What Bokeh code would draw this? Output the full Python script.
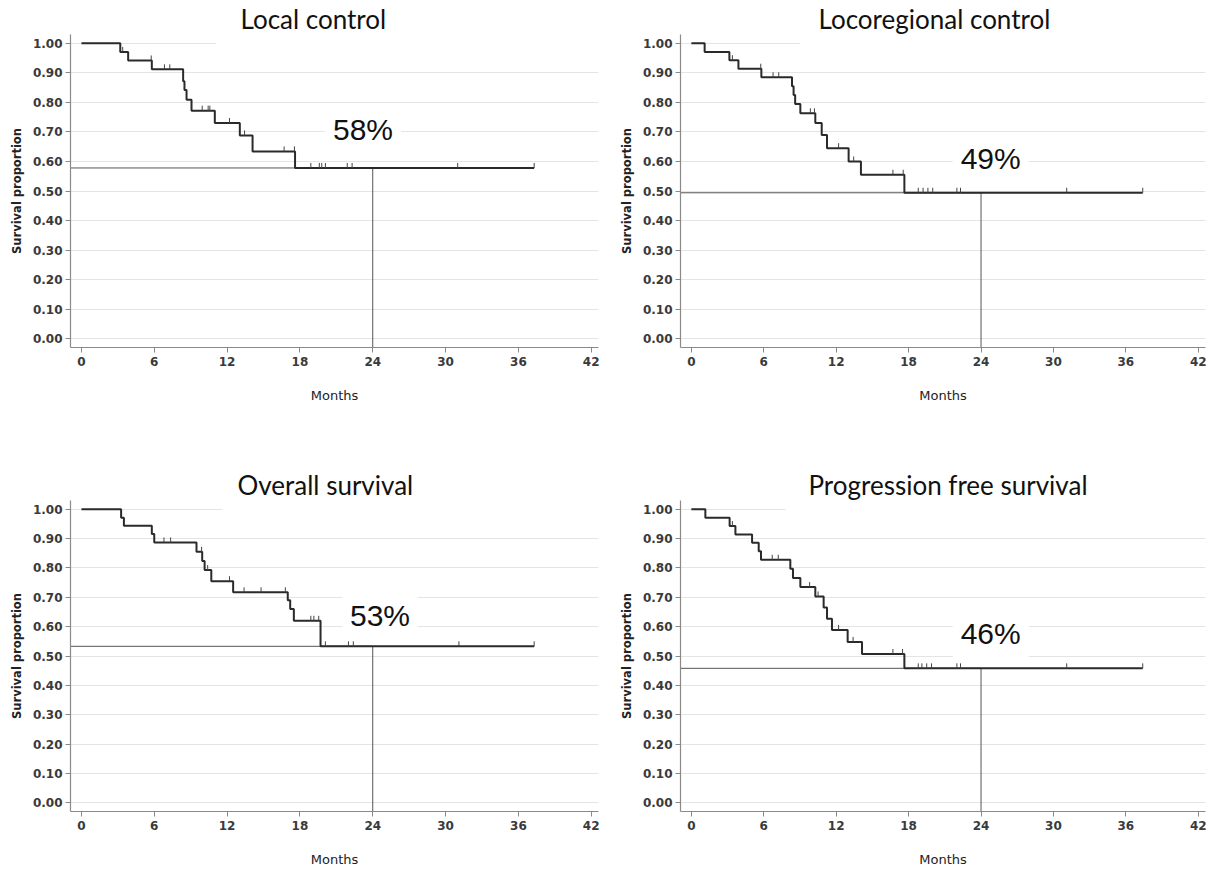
import numpy as np
from bokeh.plotting import figure
from bokeh.layouts import column, row
from bokeh.models import Range1d, FixedTicker, NumeralTickFormatter, Label, Title, BoxAnnotation
from bokeh.embed import file_html
from bokeh.resources import INLINE

# ---------------- data ----------------
titles = ["Local control", "Locoregional control", "Overall survival", "Progression free survival"]
pct_labels = ["58%", "49%", "53%", "46%"]
landmark_month = 24

lc_event_times = [3.2, 3.85, 5.8, 8.38, 8.49, 8.66, 9.07, 10.99, 13.05, 14.1, 17.6]
lc_survival = [0.971, 0.942, 0.912, 0.872, 0.842, 0.809, 0.772, 0.730, 0.688, 0.634, 0.578]
lc_censor_times = [3.4, 5.75, 6.84, 7.28, 9.95, 10.44, 10.58, 12.2, 13.44, 16.7, 17.55,
                   18.9, 19.6, 19.8, 20.1, 21.9, 22.3, 31.0, 37.3]

lrc_event_times = [1.1, 3.15, 3.9, 5.8, 8.34, 8.47, 8.6, 9.03, 10.27, 10.8, 11.24, 13.03, 14.05, 17.65]
lrc_survival = [0.971, 0.943, 0.914, 0.885, 0.855, 0.825, 0.795, 0.763, 0.730, 0.690, 0.645,
                0.600, 0.555, 0.494]
lrc_censor_times = [3.4, 5.75, 6.77, 7.24, 9.86, 10.2, 12.2, 13.45, 16.7, 17.55, 18.8, 19.2,
                    19.6, 20.0, 22.0, 22.3, 31.1, 37.4]

os_event_times = [3.27, 3.5, 5.8, 6.0, 9.48, 9.95, 10.15, 10.7, 12.5, 17.0, 17.2, 17.5, 19.7]
os_survival = [0.971, 0.944, 0.916, 0.887, 0.855, 0.824, 0.793, 0.755, 0.717, 0.690, 0.660,
               0.620, 0.533]
os_censor_times = [6.8, 7.35, 9.9, 10.4, 12.2, 13.4, 14.8, 16.8, 18.9, 19.15, 19.55, 20.1,
                   22.0, 22.4, 31.1, 37.3]

pfs_event_times = [1.16, 3.17, 3.65, 5.03, 5.58, 5.77, 8.2, 8.42, 9.03, 10.27, 10.96, 11.24,
                   11.65, 12.95, 14.14, 17.65]
pfs_survival = [0.971, 0.943, 0.914, 0.886, 0.857, 0.828, 0.797, 0.766, 0.735, 0.703, 0.665,
                0.627, 0.589, 0.548, 0.507, 0.458]
pfs_censor_times = [3.4, 6.7, 7.2, 9.8, 10.5, 12.2, 13.4, 16.7, 17.5, 18.8, 19.1, 19.5, 19.9,
                    22.0, 22.3, 31.1, 37.4]

x_ticks = [0, 6, 12, 18, 24, 30, 36, 42]
y_ticks = [0.0, 0.1, 0.2, 0.3, 0.4, 0.5, 0.6, 0.7, 0.8, 0.9, 1.0]

# ---------------- layout / style ----------------
X_LO, X_HI = -0.9, 42.6
Y_LO, Y_HI = -0.03, 1.03
CURVE = "#2a2a2a"
REF = "#555555"
AXIS = "#8a8a8a"
TXT = "#3a3a3a"

title_offsets = [170, 138, 167, 128]            # px from frame left edge
title_mask_left = [11.1, 9.0, 11.6, 7.8]        # where the title box hides the top gridline
pct_pos = [(23.2, 0.708), (24.8, 0.610), (24.6, 0.638), (24.8, 0.576)]


def surv_at(t, ev, sv):
    ev = np.asarray(ev)
    i = np.searchsorted(ev, np.asarray(t), side="right")
    levels = np.concatenate([[1.0], np.asarray(sv)])
    return levels[i]


def panel(idx, ev, sv, cens, width, height, bl, br, bt, bb, label_standoff):
    p = figure(width=width, height=height, title=None,
               x_range=Range1d(X_LO, X_HI), y_range=Range1d(Y_LO, Y_HI),
               output_backend="svg", toolbar_location=None,
               min_border_left=bl, min_border_right=br,
               min_border_top=bt, min_border_bottom=bb)
    p.outline_line_color = None
    p.background_fill_color = "white"
    p.border_fill_color = "white"
    p.xgrid.visible = False
    p.ygrid.grid_line_color = "#e4e4e4"
    p.ygrid.grid_line_width = 1.2

    p.xaxis.ticker = FixedTicker(ticks=x_ticks)
    p.yaxis.ticker = FixedTicker(ticks=y_ticks)
    p.yaxis.formatter = NumeralTickFormatter(format="0.00")
    for ax in (p.xaxis, p.yaxis):
        ax.axis_line_color = AXIS
        ax.axis_line_width = 1.2
        ax.major_tick_line_color = AXIS
        ax.major_tick_out = 5
        ax.major_tick_in = 0
        ax.minor_tick_line_color = None
        ax.major_label_text_font = "DejaVu Sans"
        ax.major_label_text_font_style = "bold"
        ax.major_label_text_font_size = "12px"
        ax.major_label_text_color = TXT
        ax.major_label_standoff = 4
        ax.axis_label_text_color = "#222222"
        ax.axis_label_text_font = "DejaVu Sans"
    p.yaxis.major_label_standoff = 3
    p.yaxis.axis_label = "Survival proportion"
    p.yaxis.axis_label_text_font_size = "11.5px"
    p.yaxis.axis_label_text_font_style = "bold"
    p.yaxis.axis_label_standoff = 6
    p.xaxis.axis_label = "Months"
    p.xaxis.axis_label_text_font_size = "13px"
    p.xaxis.axis_label_text_font_style = "normal"
    p.xaxis.axis_label_standoff = label_standoff

    # title (with white box hiding the top gridline, as in the original)
    t = Title(text=titles[idx], align="left", offset=title_offsets[idx], standoff=0,
              text_font="Lato", text_font_size="26px", text_font_style="normal",
              text_color="#111111")
    p.add_layout(t, "above")
    p.add_layout(BoxAnnotation(left=title_mask_left[idx], right=X_HI, bottom=0.985, top=1.015,
                               fill_color="white", fill_alpha=1.0, line_color=None))

    end_t = max(cens)
    s24 = float(surv_at(landmark_month, ev, sv))

    # landmark reference lines
    p.segment(x0=[X_LO, landmark_month], y0=[s24, Y_LO], x1=[landmark_month, landmark_month],
              y1=[s24, s24], line_color=REF, line_width=1)

    # Kaplan-Meier step curve
    xs = [0.0] + list(ev) + [end_t]
    ys = [1.0] + list(sv) + [sv[-1]]
    p.step(xs, ys, mode="after", line_color=CURVE, line_width=2)

    # censoring ticks
    cy = surv_at(cens, ev, sv)
    p.segment(x0=cens, y0=cy, x1=cens, y1=cy + 0.017, line_color="#444444", line_width=1)

    px_, py_ = pct_pos[idx]
    p.add_layout(Label(x=px_, y=py_, text=pct_labels[idx], text_align="center",
                       text_baseline="middle", text_font="Liberation Sans",
                       text_font_size="30px", text_color="#111111",
                       background_fill_color="white", padding=8))
    return p


p1 = panel(0, lc_event_times, lc_survival, lc_censor_times, 610, 466, 70, 12, 33, 119, 19)
p2 = panel(1, lrc_event_times, lrc_survival, lrc_censor_times, 597, 466, 70, 2, 33, 119, 19)
p3 = panel(2, os_event_times, os_survival, os_censor_times, 610, 403, 70, 12, 33, 57, 19)
p4 = panel(3, pfs_event_times, pfs_survival, pfs_censor_times, 597, 403, 70, 2, 33, 57, 19)

layout = column(row(p1, p2), row(p3, p4))
open("out.html", "w").write(file_html(layout, INLINE))
